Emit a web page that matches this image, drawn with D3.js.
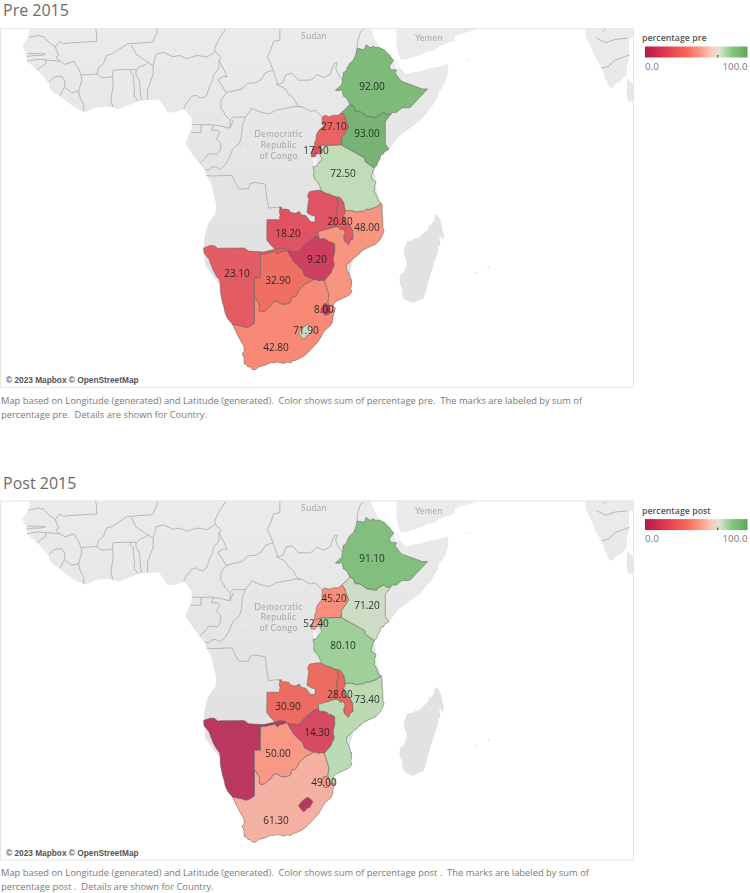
<!DOCTYPE html>
<html><head><meta charset="utf-8">
<script src="https://cdn.jsdelivr.net/npm/d3@7"></script>
<style>html,body{margin:0;padding:0;background:#fff}svg{display:block}text{white-space:pre}</style>
</head><body><svg id="c" width="750" height="893"></svg>
<script>
// ---------- values ----------
const countries = ["South Africa","Namibia","Botswana","Zimbabwe","Zambia","Mozambique","Malawi","Tanzania","Kenya","Uganda","Rwanda","Ethiopia","Eswatini","Lesotho"];
const preValues  = [42.8,23.1,32.9,9.2,18.2,48.0,20.8,72.5,93.0,27.1,17.1,92.0,8.0,71.9];
const postValues = [61.3,2.0,50.0,14.3,30.9,73.4,28.0,80.1,71.2,45.2,52.4,91.1,49.0,2.0];
const postUnlabelled = ["Namibia","Lesotho"];
const labelLon = [23.38,17.1,23.7,29.98,25.31,38.03,33.69,34.17,38.03,32.72,29.82,38.84,31.1,28.2];
const labelLat = [-31.87,-21.25,-22.3,-19.14,-15.14,-14.08,-13.27,-5.5,0.93,2.05,-1.96,8.47,-26.55,-29.52];
const colorDomain = [0,9,18,32,45,61,70,72.5,80,91,93,100];
const colorRange = ["#b53560","#cd3f5f","#df5264","#ee6e62","#f98f7a","#f5ae9e","#dcdcd0","#c0dcb9","#9fd09a","#83c080","#78b374","#62a35f"];
const legendDomain = [0,20,42,65,72,85,100];
const legendRange = ["#b5174a","#df3a52","#fb6a5a","#f9c8b8","#dfe5d5","#85c87f","#5fa35e"];
const legendTickValue = 71;
const panels = ["pre","post"];
const panelTitles = ["Pre 2015","Post 2015"];
const legendTitles = ["percentage pre","percentage post"];
const captions = [
 ["Map based on Longitude (generated) and Latitude (generated).  Color shows sum of percentage pre.  The marks are labeled by sum of","percentage pre.  Details are shown for Country."],
 ["Map based on Longitude (generated) and Latitude (generated).  Color shows sum of percentage post .  The marks are labeled by sum of","percentage post .  Details are shown for Country."]];
const placeNames = [["Sudan",29.5,15.9],["Yemen",48.0,15.5],["Democratic",23.8,0.3],["Republic",23.8,-1.45],["of Congo",23.8,-3.2]];

// ---------- geography (lon,lat) ----------
const shapes = {
"Ethiopia":[[47.79,8.0],[44.96,5.0],[43.66,4.96],[42.77,4.25],[42.13,4.23],[41.86,3.92],[41.17,3.92],[40.77,4.26],[39.85,3.84],[39.56,3.42],[38.89,3.5],[38.67,3.62],[38.44,3.59],[38.12,3.6],[36.86,4.45],[36.16,4.45],[35.82,5.34],[35.3,5.51],[34.71,6.59],[34.25,6.83],[33.99,7.92],[33.57,7.71],[32.95,7.78],[33.97,8.68],[34.26,10.63],[34.73,10.91],[34.83,11.32],[35.26,12.08],[35.86,12.58],[36.27,13.56],[36.43,14.42],[37.59,14.21],[37.91,14.96],[38.51,14.51],[39.1,14.74],[39.34,14.53],[40.03,14.52],[40.9,14.12],[41.16,13.77],[41.6,13.45],[42.01,12.87],[42.35,12.54],[42.0,12.1],[41.66,11.63],[41.74,11.36],[41.76,11.05],[42.31,11.03],[42.55,11.11],[42.78,10.93],[42.56,10.57],[42.93,10.02],[43.3,9.54],[43.68,9.18],[46.95,8.0],[47.79,8.0]],
"Kenya":[[40.99,-0.86],[41.59,-1.68],[40.88,-2.08],[40.64,-2.5],[40.26,-2.57],[40.12,-3.28],[39.8,-3.68],[39.6,-4.35],[39.2,-4.68],[37.77,-3.68],[37.7,-3.1],[34.07,-1.06],[33.9,-0.95],[33.89,0.11],[34.18,0.52],[34.67,1.18],[35.04,1.91],[34.6,3.05],[34.48,3.56],[34.0,4.25],[34.62,4.85],[35.3,5.51],[35.82,5.34],[36.16,4.45],[36.86,4.45],[38.12,3.6],[38.44,3.59],[38.67,3.62],[38.89,3.5],[39.56,3.42],[39.85,3.84],[40.77,4.26],[41.17,3.92],[41.86,3.92],[40.98,2.78],[40.99,-0.86]],
"Uganda":[[33.9,-0.95],[31.87,-1.03],[30.77,-1.01],[30.42,-1.13],[29.82,-1.44],[29.58,-1.34],[29.59,-0.59],[29.82,-0.21],[29.88,0.6],[30.09,1.06],[30.47,1.58],[30.85,1.85],[31.17,2.2],[30.77,2.34],[30.83,3.51],[31.25,3.78],[31.88,3.56],[32.69,3.79],[33.39,3.79],[34.0,4.25],[34.48,3.56],[34.6,3.05],[35.04,1.91],[34.67,1.18],[34.18,0.52],[33.89,0.11],[33.9,-0.95]],
"Rwanda":[[30.42,-1.13],[30.82,-1.7],[30.76,-2.29],[30.47,-2.41],[29.94,-2.35],[29.63,-2.92],[29.02,-2.84],[29.12,-2.29],[29.25,-2.22],[29.29,-1.62],[29.58,-1.34],[29.82,-1.44],[30.42,-1.13]],
"Tanzania":[[33.9,-0.95],[34.07,-1.06],[37.7,-3.1],[37.77,-3.68],[39.2,-4.68],[38.74,-5.91],[38.8,-6.48],[39.44,-6.84],[39.47,-7.1],[39.19,-7.7],[39.25,-8.01],[39.19,-8.49],[39.54,-9.11],[39.95,-10.1],[40.32,-10.32],[39.52,-10.9],[38.43,-11.29],[37.83,-11.27],[37.47,-11.57],[36.78,-11.59],[36.51,-11.72],[35.31,-11.44],[34.56,-11.52],[34.28,-10.16],[33.94,-9.69],[33.74,-9.42],[32.76,-9.23],[32.19,-8.93],[31.56,-8.76],[31.16,-8.59],[30.74,-8.34],[30.2,-7.08],[29.62,-6.52],[29.42,-5.94],[29.52,-5.42],[29.34,-4.5],[29.75,-4.45],[30.12,-4.09],[30.51,-3.57],[30.75,-3.36],[30.74,-3.03],[30.53,-2.81],[30.47,-2.41],[30.76,-2.29],[30.82,-1.7],[30.42,-1.13],[30.77,-1.01],[31.87,-1.03],[33.9,-0.95]],
"Zambia":[[30.74,-8.34],[31.16,-8.59],[31.56,-8.76],[32.19,-8.93],[32.76,-9.23],[33.23,-9.68],[33.49,-10.53],[33.32,-10.8],[33.11,-11.61],[33.31,-12.44],[32.99,-12.78],[32.69,-13.71],[33.21,-13.97],[30.18,-14.8],[30.27,-15.51],[29.52,-15.64],[28.95,-16.04],[28.83,-16.39],[28.47,-16.47],[27.6,-17.29],[27.04,-17.94],[26.71,-17.96],[26.38,-17.85],[25.26,-17.74],[25.08,-17.66],[25.08,-17.58],[24.68,-17.35],[24.03,-17.3],[23.22,-17.52],[22.56,-16.9],[21.89,-16.08],[21.93,-12.9],[24.02,-12.91],[23.93,-12.57],[24.08,-12.19],[23.9,-11.72],[24.02,-11.24],[23.91,-10.93],[24.26,-10.95],[24.31,-11.26],[24.78,-11.24],[25.42,-11.33],[25.75,-11.78],[26.55,-11.92],[27.16,-11.61],[27.39,-12.13],[28.16,-12.27],[28.52,-12.7],[28.93,-13.25],[29.7,-13.26],[29.62,-12.18],[29.34,-12.36],[28.64,-11.97],[28.37,-11.79],[28.5,-10.79],[28.67,-9.61],[28.45,-9.16],[28.73,-8.53],[29.0,-8.41],[30.35,-8.24],[30.74,-8.34]],
"Malawi":[[32.76,-9.23],[33.74,-9.42],[33.94,-9.69],[34.28,-10.16],[34.56,-11.52],[34.28,-12.28],[34.56,-13.58],[34.91,-13.57],[35.27,-13.89],[35.69,-14.61],[35.77,-15.9],[35.34,-16.11],[35.03,-16.8],[34.38,-16.18],[34.31,-15.48],[34.52,-15.01],[34.46,-14.61],[34.06,-14.36],[33.79,-14.45],[33.21,-13.97],[32.69,-13.71],[32.99,-12.78],[33.31,-12.44],[33.11,-11.61],[33.32,-10.8],[33.49,-10.53],[33.23,-9.68],[32.76,-9.23]],
"Mozambique":[[34.56,-11.52],[35.31,-11.44],[36.51,-11.72],[36.78,-11.59],[37.47,-11.57],[37.83,-11.27],[38.43,-11.29],[39.52,-10.9],[40.32,-10.32],[40.48,-10.77],[40.44,-11.76],[40.56,-12.64],[40.6,-14.2],[40.78,-14.69],[40.48,-15.41],[40.09,-16.1],[39.45,-16.72],[38.54,-17.1],[37.41,-17.59],[36.28,-18.66],[35.9,-18.84],[35.2,-19.55],[34.79,-19.78],[34.7,-20.5],[35.18,-21.25],[35.37,-21.84],[35.39,-22.14],[35.56,-22.09],[35.53,-23.07],[35.37,-23.54],[35.61,-23.71],[35.46,-24.12],[35.04,-24.48],[34.22,-24.82],[33.01,-25.36],[32.57,-25.73],[32.66,-26.15],[32.92,-26.22],[32.83,-26.74],[32.07,-26.73],[31.99,-26.29],[31.84,-25.84],[31.75,-25.48],[31.93,-24.37],[31.67,-23.66],[31.19,-22.25],[32.24,-21.12],[32.51,-20.4],[32.66,-20.3],[32.77,-19.72],[32.61,-19.42],[32.65,-18.67],[32.85,-17.98],[32.85,-16.71],[32.33,-16.39],[31.85,-16.32],[31.64,-16.07],[31.17,-15.86],[30.34,-15.88],[30.27,-15.51],[30.18,-14.8],[33.21,-13.97],[33.79,-14.45],[34.06,-14.36],[34.46,-14.61],[34.52,-15.01],[34.31,-15.48],[34.38,-16.18],[35.03,-16.8],[35.34,-16.11],[35.77,-15.9],[35.69,-14.61],[35.27,-13.89],[34.91,-13.57],[34.56,-13.58],[34.28,-12.28],[34.56,-11.52]],
"Zimbabwe":[[31.19,-22.25],[30.66,-22.15],[30.32,-22.27],[29.84,-22.1],[29.43,-22.09],[28.02,-21.49],[27.73,-20.85],[27.72,-20.5],[27.3,-20.39],[26.16,-19.29],[25.85,-18.71],[25.65,-18.54],[25.26,-17.74],[26.38,-17.85],[26.71,-17.96],[27.04,-17.94],[27.6,-17.29],[28.47,-16.47],[28.83,-16.39],[28.95,-16.04],[29.52,-15.64],[30.27,-15.51],[30.34,-15.88],[31.17,-15.86],[31.64,-16.07],[31.85,-16.32],[32.33,-16.39],[32.85,-16.71],[32.85,-17.98],[32.65,-18.67],[32.61,-19.42],[32.77,-19.72],[32.66,-20.3],[32.51,-20.4],[32.24,-21.12],[31.19,-22.25]],
"Namibia":[[16.34,-28.58],[15.6,-27.82],[15.21,-27.09],[14.99,-26.12],[14.74,-25.39],[14.41,-23.85],[14.39,-22.66],[14.26,-22.11],[13.87,-21.7],[13.35,-20.87],[12.83,-19.67],[12.61,-19.05],[11.79,-18.07],[11.73,-17.3],[12.22,-17.11],[12.81,-16.94],[13.46,-16.97],[14.06,-17.42],[14.21,-17.35],[18.26,-17.31],[18.96,-17.79],[21.38,-17.93],[23.22,-17.52],[24.03,-17.3],[24.68,-17.35],[25.08,-17.58],[25.08,-17.66],[24.52,-17.89],[24.22,-17.89],[23.58,-18.28],[23.2,-17.87],[21.66,-18.22],[20.91,-18.25],[20.88,-21.81],[19.9,-21.85],[19.9,-24.77],[19.89,-28.46],[19.0,-28.97],[18.46,-29.05],[17.84,-28.86],[17.39,-28.78],[16.34,-28.58]],
"Botswana":[[25.65,-18.54],[25.85,-18.71],[26.16,-19.29],[27.3,-20.39],[27.72,-20.5],[27.73,-20.85],[28.02,-21.49],[29.43,-22.09],[28.02,-22.83],[27.12,-23.57],[26.79,-24.24],[26.49,-24.62],[25.94,-24.7],[25.77,-25.17],[25.66,-25.49],[25.03,-25.72],[24.21,-25.67],[23.73,-25.39],[23.31,-25.27],[22.82,-25.5],[22.58,-25.98],[22.11,-26.28],[21.61,-26.73],[20.89,-26.83],[20.67,-26.48],[20.76,-25.87],[20.17,-24.92],[19.9,-24.77],[19.9,-21.85],[20.88,-21.81],[20.91,-18.25],[21.66,-18.22],[23.2,-17.87],[23.58,-18.28],[24.22,-17.89],[24.52,-17.89],[25.08,-17.66],[25.26,-17.74],[25.65,-18.54]],
"South Africa":[[31.52,-29.26],[31.33,-29.4],[30.9,-29.91],[30.62,-30.42],[30.06,-31.14],[28.93,-32.17],[28.22,-32.77],[27.46,-33.23],[26.42,-33.61],[25.91,-33.67],[25.78,-33.94],[25.17,-33.8],[24.68,-33.99],[23.59,-33.79],[22.99,-33.92],[22.57,-33.86],[21.54,-34.26],[20.69,-34.42],[20.07,-34.8],[19.62,-34.82],[19.19,-34.46],[18.86,-34.44],[18.42,-34.0],[18.38,-34.14],[18.24,-33.87],[18.25,-33.28],[17.93,-32.61],[18.25,-32.43],[18.22,-31.66],[17.57,-30.73],[17.06,-29.88],[16.34,-28.58],[17.39,-28.78],[17.84,-28.86],[18.46,-29.05],[19.0,-28.97],[19.89,-28.46],[19.9,-24.77],[20.17,-24.92],[20.76,-25.87],[20.67,-26.48],[20.89,-26.83],[21.61,-26.73],[22.11,-26.28],[22.58,-25.98],[22.82,-25.5],[23.31,-25.27],[23.73,-25.39],[24.21,-25.67],[25.03,-25.72],[25.66,-25.49],[25.77,-25.17],[25.94,-24.7],[26.49,-24.62],[26.79,-24.24],[27.12,-23.57],[28.02,-22.83],[29.43,-22.09],[29.84,-22.1],[30.32,-22.27],[30.66,-22.15],[31.19,-22.25],[31.67,-23.66],[31.93,-24.37],[31.75,-25.48],[31.84,-25.84],[31.33,-25.66],[31.04,-25.73],[30.95,-26.02],[30.68,-26.4],[30.69,-26.74],[31.28,-27.29],[31.87,-27.18],[32.07,-26.73],[32.83,-26.74],[32.58,-27.47],[32.46,-28.3],[32.2,-28.75],[31.52,-29.26]],
"Eswatini":[[32.07,-26.73],[31.87,-27.18],[31.28,-27.29],[30.69,-26.74],[30.68,-26.4],[30.95,-26.02],[31.04,-25.73],[31.33,-25.66],[31.84,-25.84],[31.99,-26.29],[32.07,-26.73]],
"Lesotho":[[28.98,-28.96],[29.33,-29.26],[29.02,-29.74],[28.85,-30.07],[28.29,-30.23],[28.11,-30.55],[27.75,-30.65],[27.0,-29.88],[27.53,-29.24],[28.07,-28.85],[28.54,-28.65],[28.98,-28.96]]
};
const landAreas = [
 // Africa
 [[-16.5,26],[-16.3,20],[-16.2,19],[-16.15,18.1],[-16.5,16.1],[-17.5,14.73],[-16.8,13.4],[-16.7,12.4],[-16.15,11.9],[-15.5,11.3],[-14.7,10.6],[-13.7,9.5],[-13.2,8.9],[-13.1,8.2],[-12.5,7.5],[-11.5,6.9],[-11.2,6.6],[-10.2,5.9],[-9.0,5.0],[-7.5,4.35],[-7.0,4.4],[-5.8,5.0],[-4.0,5.2],[-3.0,5.1],[-2.0,4.75],[-0.5,5.35],[1.06,5.93],[1.87,6.14],[3.6,6.26],[4.5,6.27],[5.03,5.61],[5.36,5.16],[5.9,4.26],[6.7,4.24],[7.5,4.41],[8.5,4.77],[8.9,4.5],[9.23,3.96],[9.65,3.53],[9.85,3.0],[9.85,2.2],[9.6,1.0],[9.3,0.6],[8.8,-0.78],[9.4,-1.6],[10.0,-2.6],[11.1,-3.98],[11.9,-5.04],[12.3,-6.1],[13.0,-7.2],[13.2,-8.5],[13.4,-9.2],[13.8,-10.7],[13.7,-11.3],[13.6,-12.0],[12.5,-13.5],[12.2,-14.45],[11.85,-15.8],[11.73,-17.3],[12,-20],[20,-30],[30,-30],[35,-22],[35.9,-18.84],[40,-16],[40.6,-12],[40.32,-10.32],[39.5,-8],[39.2,-4.68],[39.8,-3.68],[40.26,-2.57],[40.88,-2.08],[41.59,-1.68],[43.1,0.3],[44.1,1.1],[46.56,2.86],[47.74,4.22],[48.6,5.34],[49.45,6.8],[49.73,7.8],[50.1,8.08],[50.8,9.4],[51.1,10.6],[51.13,11.75],[50.7,12.02],[50.26,11.68],[49.7,11.58],[48.95,11.41],[48.38,11.38],[47.5,11.13],[46.65,10.82],[45.56,10.7],[44.6,10.44],[44.1,10.45],[43.47,11.28],[42.8,11.5],[43.2,12.45],[42.35,12.54],[41.6,13.45],[40.9,14.12],[39.8,15.0],[39.27,15.9],[38.4,18.0],[37.4,21],[37,26]],
 // Arabia
 [[42.6,19],[42.8,16.4],[42.75,15.0],[43.2,13.2],[43.5,12.65],[44.5,12.7],[45.1,12.95],[46.7,13.4],[47.9,14.0],[48.7,14.0],[49.6,14.7],[51.0,15.2],[52.2,15.6],[52.2,16.3],[53.1,16.65],[54.5,17.0],[55.3,17.3],[56.3,17.95],[57.5,18.9],[58,21],[42,21]],
 // Madagascar
 [[49.54,-12.47],[49.81,-12.9],[50.06,-13.56],[50.22,-14.76],[50.48,-15.23],[50.38,-15.71],[50.2,-16.0],[49.86,-15.41],[49.67,-15.71],[49.86,-16.45],[49.77,-16.88],[49.5,-17.11],[49.44,-17.95],[48.55,-20.5],[47.93,-22.39],[47.55,-23.78],[47.1,-24.94],[46.28,-25.18],[45.41,-25.6],[44.83,-25.35],[44.04,-25.0],[43.76,-24.46],[43.7,-23.57],[43.35,-22.78],[43.25,-22.06],[43.43,-21.34],[43.89,-21.16],[44.37,-20.07],[44.46,-19.44],[44.23,-18.96],[44.04,-18.33],[43.96,-17.41],[44.31,-16.85],[44.45,-16.22],[44.94,-16.18],[45.5,-15.97],[45.87,-15.79],[46.31,-15.78],[46.88,-15.21],[47.71,-14.59],[48.0,-14.09],[47.87,-13.66],[48.29,-13.78],[48.85,-13.09],[48.86,-12.49],[49.19,-12.04],[49.54,-12.47]],
 // India
 [[72.7,21],[72.8,19],[73.4,16],[74.4,14],[74.9,12.7],[75.8,11.3],[76.3,9.9],[77.0,8.4],[77.55,8.07],[78.2,8.9],[79.0,9.3],[79.9,10.3],[79.85,11.5],[80.3,13],[80.2,14.5],[80.3,15.9],[81.5,16.4],[82.3,16.6],[84,18.2],[86,21]],
 // Sri Lanka
 [[79.9,9.7],[81.2,8.5],[81.8,7.5],[81.6,6.5],[80.6,5.95],[80.0,6.2],[79.85,7.5],[79.8,8.8]],
 // Islands: Zanzibar, Pemba, Socotra, Reunion, Mauritius
 [[39.2,-5.7],[39.5,-6.2],[39.5,-6.5],[39.25,-6.3]],
 [[39.7,-4.9],[39.85,-5.0],[39.75,-5.5],[39.6,-5.4]],
 [[53.4,12.6],[54.4,12.65],[54.5,12.45],[53.7,12.3]],
 [[55.3,-20.95],[55.75,-21.0],[55.75,-21.3],[55.3,-21.3]],
 [[57.4,-20.0],[57.75,-20.1],[57.7,-20.5],[57.35,-20.45]]
];
const lakes = [
 [[29.3,-3.0],[29.95,-3.1],[29.9,-4.2],[29.45,-4.7],[29.25,-4.0]],
 [[29.0,-12.1],[29.55,-12.4],[29.5,-13.0],[29.1,-12.7]],
 [[18.2,-1.7],[18.6,-1.9],[18.5,-2.6],[18.2,-2.4]],
 [[-0.9,8.9],[-0.5,8.0],[0.1,6.6],[0.2,6.9],[-0.3,8.0],[-0.7,8.7]],
 [[42.2,12.7],[43.2,12.45],[43.45,11.5],[42.7,11.0],[42.1,11.2]]
];
const borders = [
 [[-16.5,16.1],[-15,16.4],[-14,16.2],[-13,15.2],[-12.17,14.62],[-11.5,15.5],[-10.9,15.13],[-9.7,15.26],[-5.5,15.5],[-5.5,16.4],[-6,20]],
 [[-16.8,13.15],[-15.5,13.3],[-14.4,13.3],[-13.8,13.5],[-15,13.6],[-16.6,13.6]],
 [[-12.17,14.62],[-11.6,13.3],[-12.1,13.0],[-11.4,12.4],[-13.7,12.6],[-15,12.7],[-16.7,12.4]],
 [[-13.7,12.6],[-13.7,12.0],[-15.1,11.0]],
 [[-11.4,12.4],[-10.6,11.9],[-9.2,12.4],[-8.3,11.0],[-8.0,10.2],[-7.9,9.3],[-8.2,8.4],[-8.4,7.7],[-8.3,7.0],[-7.6,5.4],[-7.55,4.4]],
 [[-13.2,9.1],[-12.4,9.85],[-11.9,10.0],[-11.1,10.0],[-10.6,9.3],[-10.7,8.3],[-11.4,6.9]],
 [[-10.7,8.3],[-9.5,7.4],[-8.4,7.7]],
 [[-8.0,10.2],[-6.8,10.3],[-5.4,10.4],[-4.8,9.8],[-3.0,9.9],[-2.8,9.0],[-3.2,6.3],[-2.9,5.1]],
 [[-5.4,10.4],[-5.2,11.4],[-4.4,12.0],[-3.9,13.3],[-3.1,13.5],[-2.0,14.2],[-0.5,15.1],[3.5,15.4],[4.2,16.8],[4.2,19]],
 [[-3.0,9.9],[-2.8,11.0],[0.0,11.1],[0.9,11.0],[1.4,11.5],[2.4,11.9],[2.85,12.2]],
 [[0.0,11.1],[-0.1,10.7],[0.4,10.2],[0.5,8.7],[0.6,7.7],[0.5,6.9],[1.2,6.1]],
 [[0.9,11.0],[0.8,10.4],[1.4,9.3],[1.6,6.8],[1.8,6.2]],
 [[2.7,6.3],[2.7,7.9],[3.6,10.3],[3.6,11.7],[2.85,12.2]],
 [[0.1,14.9],[0.9,13.4],[2.2,12.6],[2.85,12.2]],
 [[3.6,11.7],[4.1,13.5],[5.3,13.8],[6.8,13.1],[7.8,13.3],[9.0,12.8],[10.7,13.3],[12.3,13.05],[13.1,13.6],[13.6,13.9],[13.5,14.4],[14,15.5],[15.3,17.5],[15.5,20]],
 [[13.6,13.9],[14.5,13],[14.2,12.5],[14.2,11.3],[13.3,10.2],[13.2,9.5],[12.8,8.7],[12.2,7.0],[11.7,6.6],[11.1,6.6],[10.5,7.0],[9.8,6.8],[8.8,5.5],[8.5,4.77]],
 [[14.2,12.5],[15.1,10.9],[15.5,9.9],[14.9,10.0],[14,9.5],[15.4,7.4],[16.5,7.7],[17.9,8.0],[18.8,8.9],[20.1,9.0],[21.0,9.5],[21.7,10.6],[22.9,11.0],[22.3,12.5],[22,13.0],[22.5,14.1],[23,15.5],[24,15.7],[24,20]],
 [[15.4,7.4],[14.5,6.2],[14.5,4.9],[15,4.3],[15.1,3.9],[16,3.0],[16.0,2.3]],
 [[16,3.0],[16.5,3.5],[18.5,3.5],[19.5,4.9],[20.9,4.3],[22.4,4.0],[23.3,4.6],[25.1,4.9],[26.4,5.2],[27.4,5.2],[29,4.4],[29.7,4.6],[30.83,3.51]],
 [[22.9,11.0],[23.6,9.0],[23.5,8.7],[24.6,8.2],[25.1,7.8],[25.1,7.5],[26.2,6.5],[27,5.1],[27.4,5.2]],
 [[23.5,8.7],[24.5,9],[25,10.3],[26,10.5],[27,9.4],[28.9,9.4],[29.5,9.8],[30,10.3],[31,9.8],[32.1,10.3],[32.7,12],[33.2,12.2],[33,11.4],[33.2,10.7],[34.0,9.5]],
 [[36.43,14.42],[36.5,15.5],[37.0,17],[38.4,18]],
 [[9.8,2.3],[11.3,2.25],[13.0,2.3],[13.3,2.2],[14.4,2.1],[15.9,1.7],[16.0,2.3]],
 [[9.6,1.0],[11.3,1.0],[11.3,2.25]],
 [[13.3,2.2],[13,1.4],[14.0,1.4],[14.3,1.1],[14.0,0.4],[13.8,0.0],[14.4,-0.6],[14.5,-1.4],[14.3,-2],[13.9,-2.5],[13.1,-2.4],[12.5,-2.4],[12.0,-3.1],[11.1,-3.98]],
 [[16.0,1.7],[16.5,3.0]],
 [[18.5,3.5],[18.0,2.4],[17.8,0.3],[17.5,-0.7],[16.4,-1.7],[15.9,-3.0],[15.2,-4.2],[14.4,-4.9],[13.6,-4.5],[13.0,-4.6],[12.6,-5.0],[12.0,-5.0]],
 [[12.2,-5.9],[13.0,-5.98],[16.3,-5.87],[16.9,-7.2],[17.5,-8.1],[18.5,-7.99],[19.0,-8.0],[19.2,-7.2],[20.0,-7.0],[21.7,-7.3],[21.75,-8.4],[21.9,-9.5],[22.2,-11.1],[22.8,-11.0],[23.91,-10.93]],
 [[34.0,4.25],[34.62,4.85],[35.3,5.51]],
 [[75,16],[76.5,15.3],[78,15.8],[80,16]],
 [[76,17],[77.5,18.2],[79.5,18.6]],
 [[75.8,11.3],[77,11.6],[78,12.6],[80.3,13.4]]
];

// ---------- scales ----------
const mapScale = 355.8;
const panelTop = [0, 472.6];
const color = d3.scaleLinear().domain(colorDomain).range(colorRange).interpolate(d3.interpolateRgb);
const legendX = d3.scaleLinear().domain([0,100]).range([645,747.5]);

const svg = d3.select("#c");
const defs = svg.append("defs");
const grad = defs.append("linearGradient").attr("id","lg");
legendDomain.forEach((d,i)=>grad.append("stop").attr("offset",d+"%").attr("stop-color",legendRange[i]));
const mkBlur = (id,s)=>defs.append("filter").attr("id",id).attr("x",0).attr("y",0).attr("width",1).attr("height",1)
  .attr("filterUnits","objectBoundingBox").append("feGaussianBlur").attr("stdDeviation",s);
mkBlur("soft",0.35); mkBlur("softText",0.22);
const uiFont = "'Open Sans',sans-serif";

panels.forEach((panel,pi)=>{
  const dy = panelTop[pi];
  const values = pi===0 ? preValues : postValues;
  const proj = d3.geoMercator().scale(mapScale).translate([130.8,138.8+dy]);
  const path = d3.geoPath(d3.geoTransform({point(x,y){const p=proj([x,y]);this.stream.point(p[0],p[1]);}}));
  const poly = c=>path({type:"Polygon",coordinates:[c]});
  const line = c=>path({type:"LineString",coordinates:c});
  const id = "clip"+panel;
  defs.append("clipPath").attr("id",id).append("rect").attr("x",0).attr("y",28+dy).attr("width",633).attr("height",359);
  const landGrad = defs.append("linearGradient").attr("id","land"+panel).attr("gradientUnits","userSpaceOnUse")
    .attr("x1",0).attr("x2",0).attr("y1",28+dy).attr("y2",230+dy);
  landGrad.append("stop").attr("offset",0).attr("stop-color","#ebebeb");
  landGrad.append("stop").attr("offset",1).attr("stop-color","#e2e2e2");

  svg.append("text").attr("x",3).attr("y",16+dy).attr("font-family",uiFont).attr("font-size",16).attr("fill","#6b6b6b").text(panelTitles[pi]);
  const g = svg.append("g").attr("clip-path",`url(#${id})`);
  const m = g.append("g").attr("filter","url(#soft)");
  m.selectAll("path.land").data(landAreas).join("path").attr("class","land").attr("d",poly).attr("fill",`url(#land${panel})`);
  m.selectAll("path.lake").data(lakes).join("path").attr("class","lake").attr("d",poly).attr("fill","#f6f6f6");
  m.selectAll("path.border").data(borders).join("path").attr("class","border").attr("d",line).attr("fill","none").attr("stroke","#ababab").attr("stroke-width",0.8);
  m.selectAll("text.place").data(placeNames).join("text").attr("class","place")
    .attr("x",d=>proj([d[1],d[2]])[0]).attr("y",d=>proj([d[1],d[2]])[1]).attr("text-anchor","middle")
    .attr("font-family","Lato,sans-serif").attr("font-size",8.9).attr("letter-spacing",0.35).attr("fill","#a8a8a8").text(d=>d[0]);
  m.selectAll("path.country").data(countries).join("path").attr("class","country")
    .attr("d",d=>poly(shapes[d])).attr("fill",(d,i)=>color(values[i]))
    .attr("stroke","#5a5a5a").attr("stroke-opacity",0.55).attr("stroke-width",0.9);
  const labels = g.append("g").attr("filter","url(#softText)");
  labels.append("rect").attr("x",0).attr("y",28+dy).attr("width",633).attr("height",359).attr("fill","none");
  labels.selectAll("text.val").data(countries.filter(d=>!(pi===1 && postUnlabelled.includes(d)))).join("text").attr("class","val")
    .attr("x",d=>proj([labelLon[countries.indexOf(d)],labelLat[countries.indexOf(d)]])[0])
    .attr("y",d=>proj([labelLon[countries.indexOf(d)],labelLat[countries.indexOf(d)]])[1]+3.5)
    .attr("text-anchor","middle").attr("font-family",uiFont).attr("font-size",10).attr("fill","#1c1c1c").attr("fill-opacity",0.9)
    .text(d=>values[countries.indexOf(d)].toFixed(2));
  svg.append("rect").attr("x",0.5).attr("y",28.5+dy).attr("width",633).attr("height",359).attr("fill","none").attr("stroke","#e6e6e6");
  svg.append("text").attr("x",6).attr("y",383+dy).attr("font-family","'Liberation Sans',Arial,sans-serif").attr("font-size",8.3).attr("font-weight",700).attr("fill","#555").text("© 2023 Mapbox © OpenStreetMap");
  captions[pi].forEach((t,i)=>svg.append("text").attr("x",1).attr("y",403.5+14*i+dy).attr("font-family",uiFont).attr("font-size",9.35).attr("fill","#7a7a7a").text(t));
  // legend
  svg.append("text").attr("x",642).attr("y",41+dy).attr("font-family",uiFont).attr("font-size",8.8).attr("font-weight",600).attr("fill","#555").text(legendTitles[pi]);
  svg.append("rect").attr("x",legendX(0)).attr("y",46.5+dy).attr("width",legendX(100)-legendX(0)).attr("height",11).attr("fill","url(#lg)");
  svg.append("line").attr("x1",legendX(legendTickValue)).attr("x2",legendX(legendTickValue)).attr("y1",55+dy).attr("y2",57.5+dy).attr("stroke","#333");
  svg.append("text").attr("x",legendX(0)).attr("y",69.5+dy).attr("font-family",uiFont).attr("font-size",9.8).attr("fill","#777").text("0.0");
  svg.append("text").attr("x",legendX(100)).attr("y",69.5+dy).attr("text-anchor","end").attr("font-family",uiFont).attr("font-size",9.8).attr("fill","#777").text("100.0");
});
</script></body></html>
